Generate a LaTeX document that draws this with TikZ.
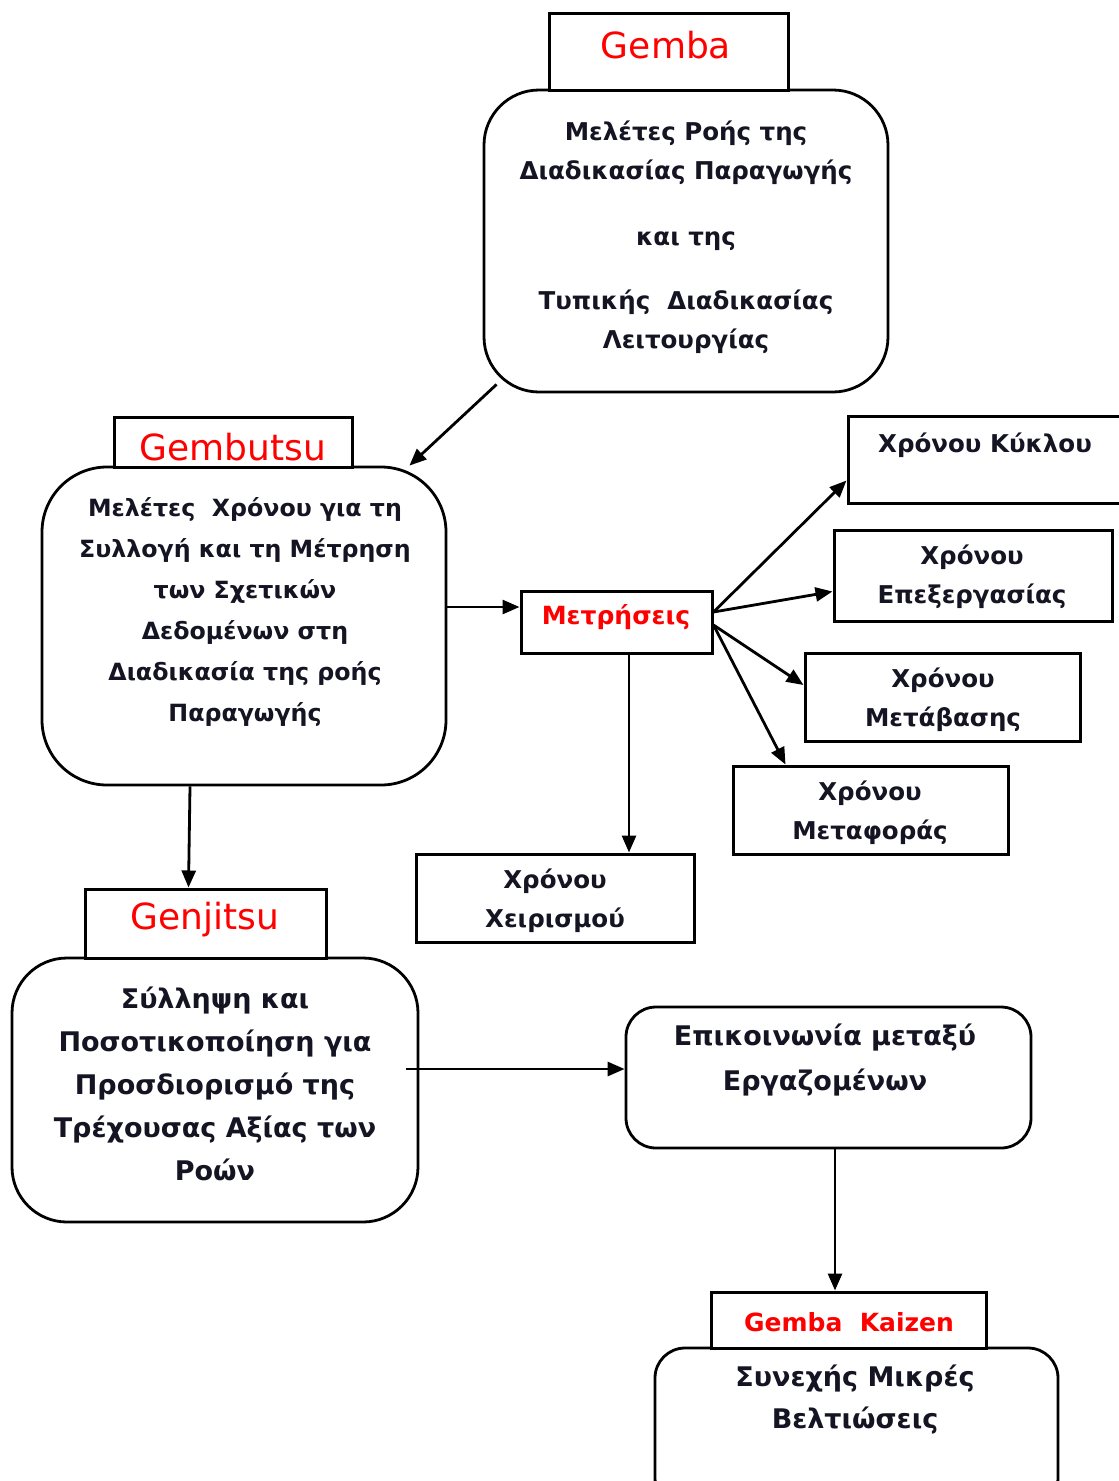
\documentclass[tikz,border=0pt]{standalone}
\usepackage{fontspec}
\setmainfont{DejaVu Sans}
\usetikzlibrary{arrows.meta,calc}
\definecolor{titlered}{RGB}{255,0,0}
\definecolor{ink}{RGB}{20,20,35}
\begin{document}
\begin{tikzpicture}[x=1pt,y=-1pt,
  tbox/.style={draw, line width=3pt, rectangle, inner sep=0pt, fill=white},
  rbox/.style={draw, line width=2.8pt, rectangle, rounded corners=#1, inner sep=0pt},
  rbox/.default=55pt,
  title/.style={text=titlered, font=\fontsize{36}{40}\selectfont},
  smalltitle/.style={text=titlered, font=\fontsize{25}{28}\selectfont\bfseries},
  body/.style={text=ink, align=center, font=\fontsize{24.5}{39}\selectfont\bfseries},
  bigbody/.style={text=ink, align=center, font=\fontsize{27}{43}\selectfont\bfseries},
  arr/.style={draw, line width=2.8pt, -{Triangle[length=17pt,width=14pt]}},
]
\path[use as bounding box] (0,0) rectangle (1119,1481);

% --- Gemba ---
\node[rbox=55pt, minimum width=404pt, minimum height=302pt] (gembaBody) at (686,241) {};
\node[tbox, minimum width=239pt, minimum height=77pt] (gembaTitle) at (668.5,51.5) {};
\node[title] (gembaLabel) at (666,45) {Gemba};
\node[body] (gembaText) at (686,237) {Μελέτες Ροής της\\Διαδικασίας Παραγωγής\\[27pt]και της\\[25pt]Τυπικής \ Διαδικασίας\\Λειτουργίας};

% --- Gembutsu ---
\node[rbox=65pt, minimum width=404pt, minimum height=318pt] (gembutsuBody) at (244,626) {};
\node[tbox, minimum width=238pt, minimum height=50pt] (gembutsuTitle) at (233,442) {};
\node[title] (gembutsuLabel) at (233,447) {Gembutsu};
\node[body, font=\fontsize{23.7}{41}\selectfont\bfseries] (gembutsuText) at (245,612) {Μελέτες \ Χρόνου για τη\\Συλλογή και τη Μέτρηση\\των Σχετικών\\Δεδομένων στη\\Διαδικασία της ροής\\Παραγωγής};

% --- Measurements ---
\node[tbox, minimum width=191pt, minimum height=62pt] (metr) at (616.5,622) {};
\node[smalltitle] (metrLabel) at (616,617) {Μετρήσεις};

\node[tbox, minimum width=273pt, minimum height=87pt] (kyklou) at (984.5,459.5) {};
\node[body] (kyklouText) at (985,445) {Χρόνου Κύκλου};

\node[tbox, minimum width=278pt, minimum height=91pt] (epex) at (973,575.5) {};
\node[body] (epexText) at (972,577) {Χρόνου\\Επεξεργασίας};

\node[tbox, minimum width=275pt, minimum height=88pt] (metav) at (942.5,697) {};
\node[body] (metavText) at (943,700) {Χρόνου\\Μετάβασης};

\node[tbox, minimum width=275pt, minimum height=88pt] (metaf) at (870.5,810) {};
\node[body] (metafText) at (870,813) {Χρόνου\\Μεταφοράς};

\node[tbox, minimum width=278pt, minimum height=88pt] (xeir) at (555,898) {};
\node[body] (xeirText) at (555,901) {Χρόνου\\Χειρισμού};

% --- Genjitsu ---
\node[rbox=55pt, minimum width=406pt, minimum height=264pt] (genjitsuBody) at (215,1090) {};
\node[tbox, minimum width=241pt, minimum height=69pt] (genjitsuTitle) at (205.5,923.5) {};
\node[title] (genjitsuLabel) at (205,920) {Genjitsu};
\node[bigbody] (genjitsuText) at (215,1084) {Σύλληψη και\\Ποσοτικοποίηση για\\Προσδιορισμό της\\Τρέχουσας Αξίας των\\Ροών};

% --- Communication ---
\node[rbox=30pt, minimum width=405pt, minimum height=141pt] (epik) at (828.5,1077.5) {};
\node[bigbody, font=\fontsize{27}{45}\selectfont\bfseries] (epikText) at (825,1060) {Επικοινωνία μεταξύ\\Εργαζομένων};

% --- Gemba Kaizen ---
\node[rbox=30pt, minimum width=403pt, minimum height=160pt] (synBody) at (856.5,1428) {};
\node[tbox, minimum width=275pt, minimum height=56pt] (kaizenTitle) at (848.5,1320) {};
\node[smalltitle] (kaizenLabel) at (849,1322) {Gemba \ Kaizen};
\node[bigbody, font=\fontsize{27}{42}\selectfont\bfseries] (synText) at (855,1399) {Συνεχής Μικρές\\Βελτιώσεις};

% --- connectors ---
\draw[arr] ([xshift=14pt,yshift=9pt]gembaBody.south west) -- ([xshift=-38pt]gembutsuBody.north east);

\coordinate (m1) at ([yshift=15pt]metr.west);
\draw[arr] (gembutsuBody.east |- m1) -- (m1);

\draw[arr] ([yshift=10pt]metr.east) -- ([yshift=-21pt]kyklou.west);
\draw[arr] ([yshift=10pt]metr.east) -- ([yshift=-16pt]epex.west);
\draw[arr] ([yshift=-3pt]metr.east) -- ([yshift=12pt]metav.west);
\draw[arr] ([yshift=-3pt]metr.east) -- ([xshift=54pt]metaf.north west);

\coordinate (m2) at ([xshift=12.5pt]metr.south);
\draw[arr] (m2) -- (m2 |- xeir.north);

\draw[arr] ([xshift=-54pt]gembutsuBody.south) -- ([xshift=-17pt]genjitsuTitle.north);

\coordinate (g1) at ([yshift=8.5pt]epik.west);
\draw[arr] ([xshift=-13pt]genjitsuBody.east |- g1) -- (g1);

\coordinate (e1) at ([xshift=6.5pt]epik.south);
\draw[arr] (e1) -- (e1 |- kaizenTitle.north);
\end{tikzpicture}
\end{document}
